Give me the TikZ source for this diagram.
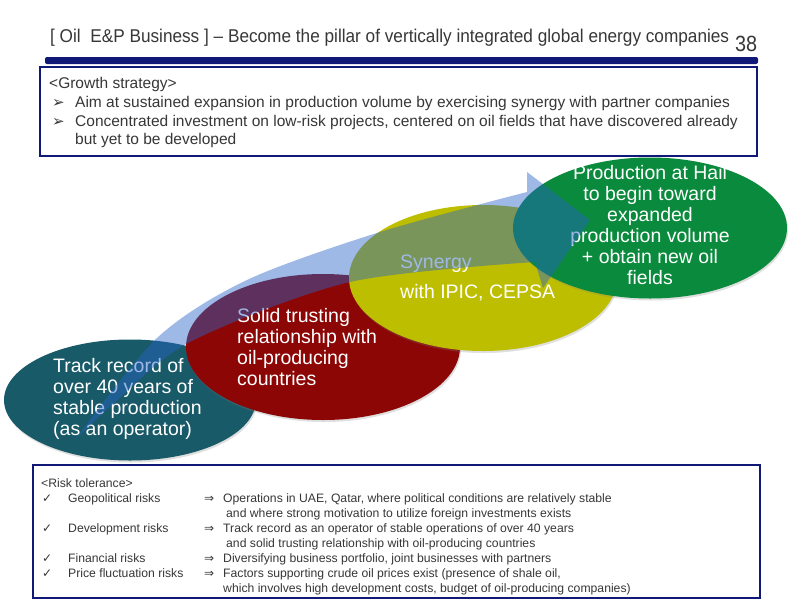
\documentclass[tikz,border=0pt]{standalone}
\usepackage{fontspec}
\setmainfont{Liberation Sans}
\newfontfamily\djv{DejaVu Sans}
\usetikzlibrary{shapes.geometric,shadows}
\definecolor{navy}{RGB}{16,24,120}
\definecolor{tealc}{RGB}{24,90,104}
\definecolor{redc}{RGB}{140,6,6}
\definecolor{yelc}{RGB}{190,190,0}
\definecolor{grnc}{RGB}{10,138,60}
\definecolor{arrowc}{RGB}{40,100,200}
\definecolor{txtg}{RGB}{55,55,55}
\begin{document}
\begin{tikzpicture}[x=1pt,y=-1pt,
  blob/.style={ellipse, inner sep=0pt, draw=none,
    drop shadow={opacity=0.25, shadow xshift=1pt, shadow yshift=-2pt}},
  eltext/.style={text=white, font=\fontsize{19.5}{21}\selectfont, inner sep=0pt},
  gtext/.style={font=\fontsize{15.5}{18}\selectfont, text=txtg, anchor=base west, inner sep=0pt},
  rtext/.style={font=\fontsize{12.2}{14}\selectfont, text=txtg, anchor=base west, inner sep=0pt},
  frame/.style={draw=navy, line width=2pt}]
\useasboundingbox (0,0) rectangle (800,600);
\fill[white] (0,0) rectangle (800,600);

% title
\node[anchor=base west, inner sep=0pt, text=txtg] (title) at (50,42)
  {\scalebox{0.93}[1]{\fontsize{18.5}{20}\selectfont [ Oil\ \ E\&P Business ] -- Become the pillar of vertically integrated global energy companies}};
\node[anchor=base west, inner sep=0pt, text=txtg] (pnum) at (735,51)
  {\scalebox{0.9}[1]{\fontsize{22}{24}\selectfont 38}};
\fill[navy, rounded corners=2pt] (45,57) rectangle (758,64);

% growth box
\draw[frame] (40,67) rectangle (757,156);
\node[gtext] (g0) at (49,88) {<Growth strategy>};
\node[gtext] (gb1) at (52,107) {{\djv\fontsize{15}{17}\selectfont ➢}};
\node[gtext] (g1) at (75,107) {Aim at sustained expansion in production volume by exercising synergy with partner companies};
\node[gtext] (gb2) at (52,126) {{\djv\fontsize{15}{17}\selectfont ➢}};
\node[gtext] (g2) at (75,126) {Concentrated investment on low-risk projects, centered on oil fields that have discovered already};
\node[gtext] (g3) at (75,144) {but yet to be developed};

% ellipses
\node[blob, fill=tealc, minimum width=252pt, minimum height=121pt] (e1) at (130,400) {};
\node[blob, fill=redc, minimum width=274pt, minimum height=146pt] (e2) at (323,347) {};
\node[blob, fill=yelc, minimum width=268pt, minimum height=146pt] (e3) at (483,278) {};
\node[blob, fill=grnc, minimum width=274pt, minimum height=141pt] (e4) at (650,228) {};

\node[eltext, anchor=west, align=left] (t1) at (53,399)
  {Track record of\\over 40 years of\\stable production\\(as an operator)};
\node[eltext, anchor=west, align=left] (t2) at (237,347)
  {Solid trusting\\relationship with\\oil-producing\\countries};
\node[eltext, anchor=west, align=left] (t3) at (400,278)
  {Synergy\\[9pt]with IPIC, CEPSA};
\node[eltext, align=center] (t4) at (650,225.5)
  {Production at Hail\\to begin toward\\expanded\\production volume\\+ obtain new oil\\fields};

% translucent arrow on top
\fill[arrowc, opacity=0.45]
  plot[smooth] coordinates {(75,440) (157,338) (247,280) (380,232) (527,192)}
  -- (527,172) -- (590,220) -- (543,288) --
  plot[smooth] coordinates {(535,262) (350,282) (190,342) (112,405) (75,440)} -- cycle;

% risk box
\draw[frame] (33,465) rectangle (760,598);
\node[rtext] (r0) at (41,487) {<Risk tolerance>};
\foreach \y/\cat/\desc/\nm in {
  502/Geopolitical risks/{Operations in UAE, Qatar, where political conditions are relatively stable}/a,
  532/Development risks/{Track record as an operator of stable operations of over 40 years}/b,
  562/Financial risks/{Diversifying business portfolio, joint businesses with partners}/c,
  577/Price fluctuation risks/{Factors supporting crude oil prices exist (presence of shale oil,}/d}{
  \node[rtext] (ck\nm) at (42,\y) {{\djv\fontsize{12}{14}\selectfont ✓}};
  \node[rtext] (cat\nm) at (68,\y) {\cat};
  \node[rtext] (ar\nm) at (204,\y) {{\djv\fontsize{12}{14}\selectfont ⇒}};
  \node[rtext] (ds\nm) at (223,\y) {\desc};
}
\node[rtext] (dsa2) at (226,517) {and where strong motivation to utilize foreign investments exists};
\node[rtext] (dsb2) at (226,547) {and solid trusting relationship with oil-producing countries};
\node[rtext] (dsd2) at (223,592) {which involves high development costs, budget of oil-producing companies)};
\end{tikzpicture}
\end{document}
